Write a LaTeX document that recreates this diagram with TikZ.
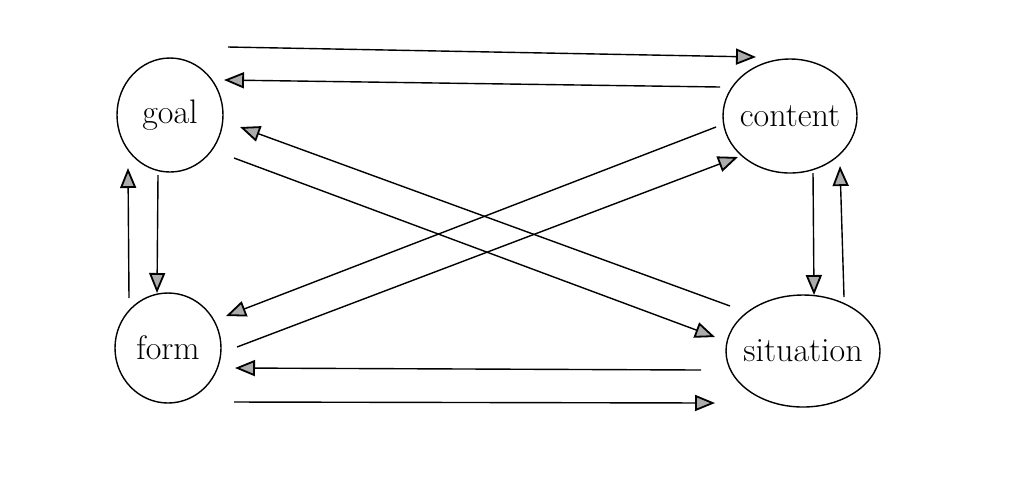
\documentclass[tikz,border=0pt]{standalone}
\usetikzlibrary{positioning,shapes.geometric,arrows.meta}
\tikzset{
  blob/.style={draw, ellipse, inner xsep=-3pt, inner ysep=0pt, line width=0.7pt, font=\fontsize{17}{20}\selectfont},
  arr/.style={line width=0.7pt, -{Triangle[length=10pt,width=8pt,line width=0.9pt,fill=gray!65]}}
}
\begin{document}
\begin{tikzpicture}[x=0.5pt,y=-0.5pt]
\useasboundingbox (0,0) rectangle (1031,479);
% Nodes
\node[blob, minimum width=53pt, minimum height=57pt] (goal) at (170,115) {goal};
\node[blob, minimum width=67pt, minimum height=57pt] (content) at (790,116) {content};
\node[blob, minimum width=53pt, minimum height=55pt] (form) at (168,348) {form};
\node[blob, minimum width=77pt, minimum height=56pt] (situation) at (803,351) {situation};
% Ends
\coordinate (gc) at (228,47);  \coordinate (cg) at (756,57);
\coordinate (cg2) at (720,87); \coordinate (gc2) at (224,80);
\coordinate (sg) at (730,306); \coordinate (gs) at (240,127);
\coordinate (gs2) at (234,158); \coordinate (sg2) at (715,337);
\coordinate (cf) at (716,127); \coordinate (fc) at (226,316);
\coordinate (fc2) at (237,347); \coordinate (cf2) at (738,157);
\coordinate (sf) at (701,370); \coordinate (fs) at (235,368);
\coordinate (fs2) at (234,402); \coordinate (sf2) at (715,403);
\coordinate (gf) at (158,175); \coordinate (fg) at (157,293);
\coordinate (fg2) at (129,298); \coordinate (gf2) at (128,168);
\coordinate (cs) at (813,173); \coordinate (sc) at (814,295);
\coordinate (sc2) at (844,297); \coordinate (cs2) at (840,166);
% Lines
\draw[arr] (gc) -- (cg);
\draw[arr] (cg2) -- (gc2);
\draw[arr] (sg) -- (gs);
\draw[arr] (gs2) -- (sg2);
\draw[arr] (cf) -- (fc);
\draw[arr] (fc2) -- (cf2);
\draw[arr] (sf) -- (fs);
\draw[arr] (fs2) -- (sf2);
\draw[arr] (gf) -- (fg);
\draw[arr] (fg2) -- (gf2);
\draw[arr] (cs) -- (sc);
\draw[arr] (sc2) -- (cs2);
\end{tikzpicture}
\end{document}
